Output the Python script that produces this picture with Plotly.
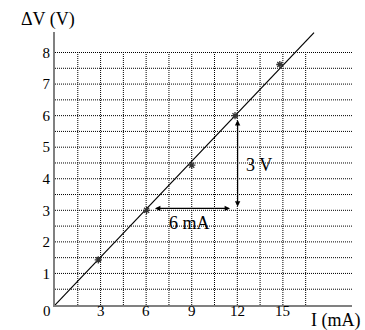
import plotly.graph_objects as go

# measured points (I in mA, delta V in V)
current_ma = [2.85, 6.03, 9.0, 11.85, 14.8]
voltage_v = [1.43, 3.0, 4.43, 6.0, 7.62]

# fitted straight line through origin
fit_x = [0, 17.05]
fit_y = [0, 8.63]

x_ticks = [3, 6, 9, 12, 15]
y_ticks = [1, 2, 3, 4, 5, 6, 7, 8]

grid_x = [1.5, 3, 4.5, 6, 7.5, 9, 10.5, 12, 13.5, 15, 16.5]
grid_y = [0.5, 1, 1.5, 2, 2.5, 3, 3.5, 4, 4.5, 5, 5.5, 6, 6.5, 7, 7.5, 8]

X_MAX = 19.55
Y_MAX = 8.65
FONT = "Liberation Serif"

fig = go.Figure()

# dotted grid, vertical lines stop at 8 V
gx, gy = [], []
for x in grid_x:
    gx += [x, x, None]
    gy += [0, grid_y[-1], None]
for y in grid_y:
    gx += [0, X_MAX, None]
    gy += [y, y, None]
fig.add_trace(go.Scatter(x=gx, y=gy, mode="lines",
                         line=dict(color="black", width=1, dash="1px,1px"),
                         hoverinfo="skip", showlegend=False))

fig.add_trace(go.Scatter(x=fit_x, y=fit_y, mode="lines",
                         line=dict(color="black", width=1.2),
                         showlegend=False))

fig.add_trace(go.Scatter(x=current_ma, y=voltage_v, mode="markers",
                         marker=dict(symbol="asterisk", size=6,
                                     line=dict(color="#333", width=1.3)),
                         showlegend=False))

arrow = dict(xref="x", yref="y", axref="x", ayref="y", text="",
             showarrow=True, arrowhead=2, arrowsize=0.9, arrowwidth=1.2,
             arrowcolor="black", arrowside="end+start")
fig.add_annotation(x=12.02, y=5.86, ax=12.02, ay=3.07, **arrow)
fig.add_annotation(x=6.58, y=3.06, ax=11.62, ay=3.06, **arrow)

txt = dict(showarrow=False, xanchor="center", yanchor="middle",
           font=dict(family=FONT, size=18, color="black"))
fig.add_annotation(x=13.4, y=4.43, xref="x", yref="y", text="3 V", **txt)
fig.add_annotation(x=8.88, y=2.59, xref="x", yref="y", text="6 mA", **txt)
fig.add_annotation(x=-0.0236, y=1.044, xref="paper", yref="paper",
                   text="ΔV (V)", **txt)
fig.add_annotation(x=0.943, y=-0.055, xref="paper", yref="paper",
                   text="I (mA)", **txt)

# x tick labels sit tight under the axis, with the "0" pushed left
tick_font = dict(family=FONT, size=15, color="black")
fig.add_annotation(x=0, y=0, xref="x", yref="y", text="0",
                   xanchor="right", yanchor="top", xshift=-2, yshift=4,
                   showarrow=False, font=tick_font)
for t in x_ticks:
    fig.add_annotation(x=t, y=0, xref="x", yref="y", text=str(t),
                       xanchor="center", yanchor="top", yshift=4,
                       showarrow=False, font=tick_font)

axis_style = dict(showline=True, linecolor="#808080", linewidth=2,
                  showgrid=False, zeroline=False, ticks="", automargin=False,
                  tickfont=tick_font)
fig.update_xaxes(range=[0, X_MAX], showticklabels=False, **axis_style)
fig.update_yaxes(range=[0, Y_MAX], tickvals=y_ticks, **axis_style)

fig.update_layout(width=365, height=330,
                  margin=dict(l=55, r=13, t=32, b=25),
                  font=dict(family=FONT),
                  plot_bgcolor="white", paper_bgcolor="white")

# drop the default 8px page margin so the figure sits at the window corner
fig.write_html("out.html", config={"displayModeBar": False},
               post_script="document.body.style.margin='0';")
